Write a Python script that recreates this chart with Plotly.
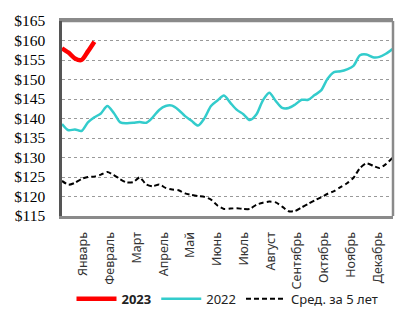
import plotly.graph_objects as go

months = ["Январь", "Февраль", "Март", "Апрель", "Май", "Июнь", "Июль",
          "Август", "Сентябрь", "Октябрь", "Ноябрь", "Декабрь"]

weeks = list(range(52))

y2023 = [158.0, 156.9, 155.4, 155.0, 157.2, 159.7]

y2022 = [138.6, 137.0, 137.2, 136.8, 139.0, 140.3, 141.3, 143.2, 141.4, 139.0,
         138.8, 138.9, 139.1, 138.9, 140.3, 142.2, 143.2, 143.3, 142.2, 140.6,
         139.4, 138.2, 140.1, 143.2, 144.6, 145.9, 144.0, 142.2, 141.1, 139.6,
         141.0, 144.6, 146.6, 144.5, 142.7, 142.7, 143.6, 144.8, 144.8, 146.0,
         147.2, 150.2, 151.9, 152.1, 152.6, 153.5, 156.2, 156.4, 155.7, 155.8,
         156.6, 157.8]

avg5 = [124.0, 123.0, 123.5, 124.5, 125.0, 125.1, 125.6, 126.3, 125.5, 124.4,
        123.6, 123.7, 124.9, 123.1, 122.6, 123.1, 122.2, 121.8, 121.6, 120.8,
        120.4, 120.1, 119.9, 119.2, 117.7, 116.8, 116.9, 117.0, 116.8, 116.8,
        117.9, 118.4, 118.7, 118.5, 117.4, 116.2, 116.3, 117.2, 118.1, 119.0,
        119.8, 120.7, 121.4, 122.4, 123.4, 124.8, 127.3, 128.5, 127.9, 127.3,
        128.3, 129.9]

yticks = list(range(115, 166, 5))

fig = go.Figure()
fig.add_trace(go.Scatter(x=weeks[:len(y2023)], y=y2023, mode="lines", name="<b>2023</b>",
                         line=dict(color="#FF0000", width=4.5, shape="spline", smoothing=0.8)))
fig.add_trace(go.Scatter(x=weeks, y=y2022, mode="lines", name="2022",
                         line=dict(color="#33CCCC", width=2.5, shape="spline", smoothing=0.8)))
fig.add_trace(go.Scatter(x=weeks, y=avg5, mode="lines", name="Сред. за 5 лет",
                         line=dict(color="#000000", width=2, dash="5px,3px", shape="spline", smoothing=0.6)))

tickvals = [3.3 + 4.13 * i for i in range(12)]

fig.update_layout(
    width=419, height=326,
    margin=dict(l=62, r=26, t=19, b=102),
    paper_bgcolor="white", plot_bgcolor="white",
    showlegend=True,
    legend=dict(orientation="h", x=0.5, xanchor="center", y=-0.425, yanchor="middle",
                font=dict(family="Noto Sans", size=13, color="#222"),
                itemwidth=40, tracegroupgap=0, bgcolor="rgba(0,0,0,0)"),
    xaxis=dict(range=[0, 51.1], tickvals=tickvals, ticktext=months, tickangle=-90,
               tickfont=dict(family="Noto Sans", size=12.5, color="#333"),
               showgrid=False, zeroline=False, ticks="outside", ticklen=8,
               tickcolor="rgba(0,0,0,0)",
               showline=True, linecolor="#8a8a8a", linewidth=3, mirror=True),
    yaxis=dict(range=[115, 165], tickvals=yticks, ticktext=["$" + str(v) for v in yticks],
               tickfont=dict(family="Liberation Serif", size=15.5, color="#000"),
               showgrid=True, gridcolor="#9a9a9a", griddash="dot", gridwidth=1,
               zeroline=False, ticks="outside", ticklen=11, tickcolor="rgba(0,0,0,0)",
               showline=True, linecolor="#555", linewidth=2.5, mirror=False),
)
# right/top border in lighter grey
fig.add_shape(type="line", xref="paper", yref="paper", x0=0, x1=1, y0=1, y1=1,
              line=dict(color="#8a8a8a", width=2.5))
fig.add_shape(type="line", xref="paper", yref="paper", x0=1, x1=1, y0=0, y1=1,
              line=dict(color="#8a8a8a", width=2.5))

fig.write_html("out.html")
